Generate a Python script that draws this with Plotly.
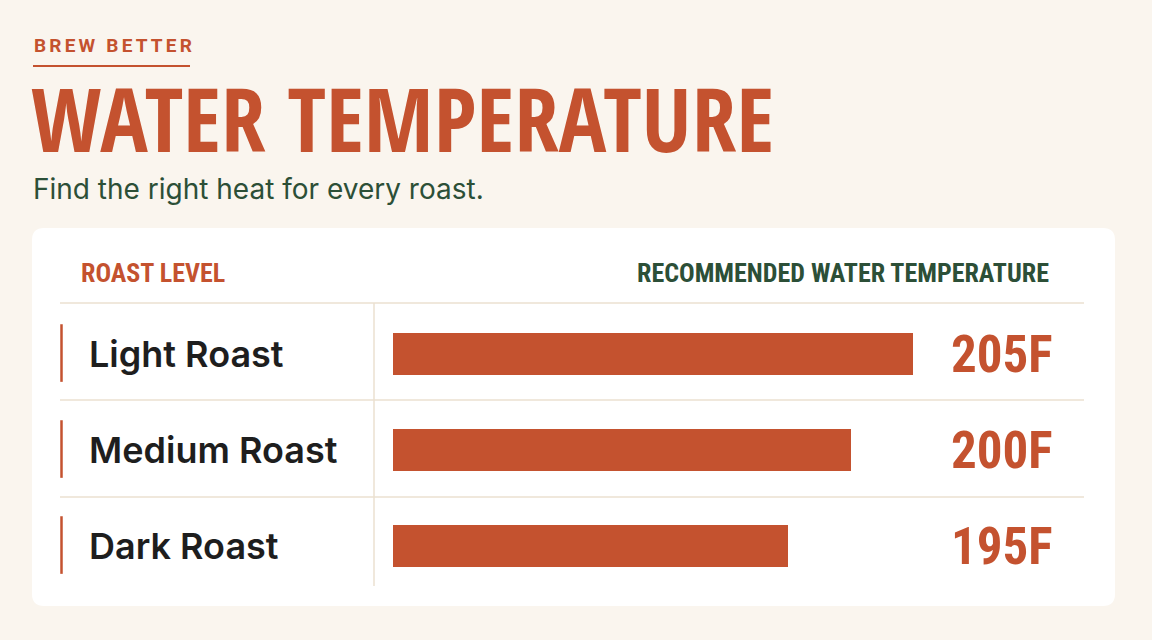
import plotly.graph_objects as go

# ---- data ----
roasts = ["Light Roast", "Medium Roast", "Dark Roast"]
temps_f = [205, 200, 195]
value_labels = ["205F", "200F", "195F"]

W, H = 1152, 640
BG = "#FAF5EE"
CARD = "#FFFFFF"
ORANGE = "#C4522F"
GREEN = "#2C4F37"
DARK = "#1E1E1E"
RULE = "#EBE0D0"

COND = "Roboto Condensed, Open Sans Condensed, sans-serif"
TITLE = "Open Sans Condensed, Roboto Condensed, sans-serif"
HUM = "Inter, Lato, Noto Sans, sans-serif"


def px(x):
    return x / W


def py(y):
    return 1 - y / H


fig = go.Figure()
fig.add_trace(go.Bar(
    y=roasts, x=temps_f, orientation="h",
    marker=dict(color=ORANGE, line=dict(width=0)),
    width=0.44, hoverinfo="skip", showlegend=False,
))

# x scale: bar left edge at 393px, 195F ends at 788px, 205F at 913px
fig.update_xaxes(domain=[px(393), px(913)], range=[163.4, 205.0],
                 visible=False, fixedrange=True)
fig.update_yaxes(domain=[py(594), py(306)], range=[2.5, -0.5],
                 categoryorder="array", categoryarray=roasts,
                 visible=False, fixedrange=True)

shapes = []
# card with rounded corners
x0, x1, y0, y1 = 32, 1115, 228, 606
r = 12
rx, ry = r / W, r / H
X0, X1, Y0, Y1 = px(x0), px(x1), py(y1), py(y0)
path = (f"M {X0+rx},{Y1} L {X1-rx},{Y1} Q {X1},{Y1} {X1},{Y1-ry} "
        f"L {X1},{Y0+ry} Q {X1},{Y0} {X1-rx},{Y0} L {X0+rx},{Y0} "
        f"Q {X0},{Y0} {X0},{Y0+ry} L {X0},{Y1-ry} Q {X0},{Y1} {X0+rx},{Y1} Z")
shapes.append(dict(type="path", xref="paper", yref="paper", path=path,
                   fillcolor=CARD, line=dict(width=0), layer="below"))
# eyebrow underline
shapes.append(dict(type="line", xref="paper", yref="paper",
                   x0=px(33), x1=px(190), y0=py(66), y1=py(66),
                   line=dict(color=ORANGE, width=2)))
# horizontal rules
for yy in [303, 400, 497]:
    shapes.append(dict(type="line", xref="paper", yref="paper",
                       x0=px(60), x1=px(1084), y0=py(yy), y1=py(yy),
                       line=dict(color=RULE, width=1.5)))
# vertical divider
shapes.append(dict(type="line", xref="paper", yref="paper",
                   x0=px(374), x1=px(374), y0=py(303), y1=py(586),
                   line=dict(color=RULE, width=1.5)))
# row accents
for i, cat in enumerate(roasts):
    shapes.append(dict(type="line", xref="paper", yref="y",
                       x0=px(61.5), x1=px(61.5), y0=i - 0.31, y1=i + 0.29,
                       line=dict(color=ORANGE, width=2.5)))

ann = []
ann.append(dict(text="<b>BREW BETTER</b>", x=px(32), y=py(45), xref="paper", yref="paper",
                xanchor="left", yanchor="middle", align="left", showarrow=False,
                font=dict(family="Roboto", size=19, color=ORANGE)))
ann.append(dict(text="<b>WATER TEMPERATURE</b>", x=px(29), y=py(117), xref="paper", yref="paper",
                xanchor="left", yanchor="middle", align="left", showarrow=False,
                font=dict(family=TITLE, size=89, color=ORANGE)))
ann.append(dict(text="Find the right heat for every roast.", x=px(31), y=py(189),
                xref="paper", yref="paper", xanchor="left", yanchor="middle", showarrow=False,
                font=dict(family=HUM, size=28, color=GREEN)))
ann.append(dict(text="<b>ROAST LEVEL</b>", x=px(79), y=py(273), xref="paper", yref="paper",
                xanchor="left", yanchor="middle", showarrow=False,
                font=dict(family=COND, size=26, color=ORANGE)))
ann.append(dict(text="<b>RECOMMENDED WATER TEMPERATURE</b>", x=px(1051), y=py(273),
                xref="paper", yref="paper", xanchor="right", yanchor="middle", showarrow=False,
                font=dict(family=COND, size=26, color=GREEN)))
for cat, lab in zip(roasts, value_labels):
    ann.append(dict(text=cat, x=px(87), y=cat, xref="paper", yref="y",
                    xanchor="left", yanchor="middle", showarrow=False,
                    font=dict(family=HUM, size=36, color=DARK, weight=600)))
    ann.append(dict(text=f"<b>{lab}</b>", x=px(1055), y=cat, xref="paper", yref="y",
                    xanchor="right", yanchor="middle", showarrow=False,
                    font=dict(family=COND, size=51, color=ORANGE)))

fig.update_layout(
    width=W, height=H, margin=dict(l=0, r=0, t=0, b=0),
    paper_bgcolor=BG, plot_bgcolor="rgba(0,0,0,0)",
    shapes=shapes, annotations=ann, bargap=0,
)

post = """
document.body.style.margin='0';
document.querySelectorAll('text.annotation-text').forEach(function(t){
  if (t.textContent === 'BREW BETTER') { t.style.letterSpacing = '3.2px'; }
});
"""
fig.write_html("out.html", config={"displayModeBar": False}, post_script=post)
